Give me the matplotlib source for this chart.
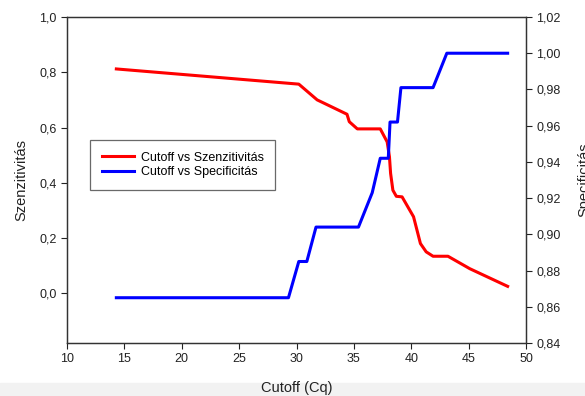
import numpy as np
import matplotlib
matplotlib.use("Agg")
import matplotlib.pyplot as plt
from matplotlib.ticker import FuncFormatter, MultipleLocator

plt.rcParams['font.family'] = ['Liberation Sans', 'DejaVu Sans']

# Szenzitivitás (bal tengely)
sens_x = [14.3, 30.2, 31.8, 34.4, 34.6, 35.3, 37.3, 37.9, 38.1, 38.2, 38.4, 38.7,
          39.2, 40.2, 40.8, 41.3, 41.9, 43.2, 45.1, 48.4]
sens_y = [0.812, 0.757, 0.70, 0.648, 0.621, 0.595, 0.595, 0.548, 0.494, 0.434, 0.373, 0.351,
          0.349, 0.277, 0.18, 0.15, 0.134, 0.134, 0.089, 0.025]

# Specificitás (jobb tengely)
spec_x = [14.3, 29.3, 30.2, 30.9, 31.7, 35.4, 36.6, 37.3, 38.0, 38.15, 38.8, 39.1,
          41.9, 43.1, 48.4]
spec_y = [0.865, 0.865, 0.885, 0.885, 0.904, 0.904, 0.923, 0.942, 0.942, 0.962, 0.962, 0.981,
          0.981, 1.0, 1.0]

comma = lambda n: FuncFormatter(lambda v, p: f"{v:.{n}f}".replace(".", ","))

fig = plt.figure(figsize=(5.85, 3.96), dpi=100)
fig.patches.append(plt.Rectangle((0, 0), 1, 13 / 396, transform=fig.transFigure,
                                 color='#f2f2f2', zorder=-1))
ax = fig.add_axes([67 / 585, 1 - 343 / 396, 459 / 585, 326 / 396])
ax2 = ax.twinx()

l1, = ax.plot(sens_x, sens_y, color='#ff0000', lw=2.2, label='Cutoff vs Szenzitivitás')
l2, = ax2.plot(spec_x, spec_y, color='#0000ff', lw=2.2, label='Cutoff vs Specificitás')

ax.set_xlim(10, 50)
ax.set_ylim(-0.18, 1.0)
ax2.set_ylim(0.84, 1.02)
ax.xaxis.set_major_locator(MultipleLocator(5))
ax.set_yticks([0.0, 0.2, 0.4, 0.6, 0.8, 1.0])
ax.yaxis.set_major_formatter(comma(1))
ax2.yaxis.set_major_locator(MultipleLocator(0.02))
ax2.yaxis.set_major_formatter(comma(2))

for a in (ax, ax2):
    a.tick_params(direction='out', length=4, width=0.8, labelsize=9, colors='#222222')
    for s in a.spines.values():
        s.set_linewidth(0.9)
        s.set_color('#333333')

ax.set_xlabel('Cutoff (Cq)', fontsize=10.5, color='#222222', labelpad=11)
ax.set_ylabel('Szenzitivitás', fontsize=10.5, color='#222222', labelpad=8)
# a jobb oldali felirat az eredetin is kilóg a képből
ax2.set_ylabel('Specificitás', fontsize=10.5, color='#222222', labelpad=12, rotation=90)

leg = ax.legend(handles=[l1, l2], loc='upper left', bbox_to_anchor=(0.05, 0.623),
                borderaxespad=0, fontsize=9, frameon=True, fancybox=False,
                handlelength=2.6, borderpad=0.95, labelspacing=0.2, handletextpad=0.5)
leg.get_frame().set_edgecolor('#444444')
leg.get_frame().set_linewidth(0.9)

fig.savefig('out.png', dpi=100)
